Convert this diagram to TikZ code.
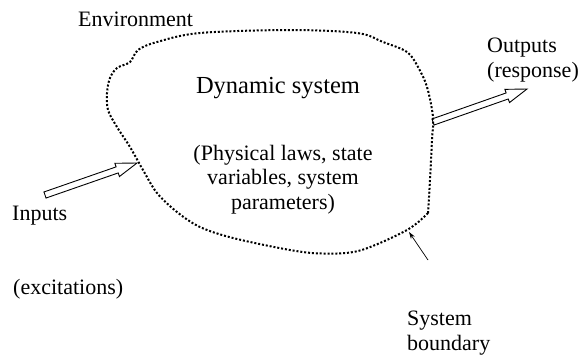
\documentclass[tikz,border=0pt]{standalone}
\usepackage{fontspec}
\setmainfont{Liberation Serif}
\usetikzlibrary{calc,arrows.meta}

\tikzset{
  lbl/.style={inner sep=0pt, font=\fontsize{22}{25}\selectfont},
  biglbl/.style={inner sep=0pt, font=\fontsize{24.5}{27}\selectfont},
  boundary/.style={line width=2pt, dash pattern=on 2pt off 1.9pt, line cap=butt},
  pointer/.style={line width=0.7pt, -{Stealth[length=7pt,width=4.5pt]}},
  % hollow block arrow built as a closed outline between two points
  hollowarrow/.style={line width=0.9pt, line join=miter, to path={
    ($(\tikztostart)!3.2pt!90:(\tikztotarget)$)
    -- ($($(\tikztotarget)!21pt!(\tikztostart)$)!3.2pt!90:(\tikztotarget)$)
    -- ($($(\tikztotarget)!21pt!(\tikztostart)$)!7pt!90:(\tikztotarget)$)
    -- (\tikztotarget)
    -- ($($(\tikztotarget)!21pt!(\tikztostart)$)!7pt!-90:(\tikztotarget)$)
    -- ($($(\tikztotarget)!21pt!(\tikztostart)$)!3.2pt!-90:(\tikztotarget)$)
    -- ($(\tikztostart)!3.2pt!-90:(\tikztotarget)$)
    -- cycle}}
}

\begin{document}
\begin{tikzpicture}[x=1pt,y=-1pt]
  \useasboundingbox (0,0) rectangle (580,354);

  % system boundary
  \draw[boundary] plot[smooth, tension=0.55] coordinates {
    (428,213) (407,230) (360,250.5) (323,253.5) (290,250)
    (233,238) (200,227) (177,212) (157,193) (143,170) (130,147) (117,127)
    (108,110) (107,93) (110,78) (117,68) (130,62) (138,50) (157,42)
    (200,33) (290,30) (357,33) (383,42) (407,52) (418,67) (427,87)
    (433,117) (432,140) (430,180) (428,213)};

  % labels
  \node[lbl, anchor=base west] (env) at (78,26) {Environment};
  \node[biglbl, anchor=base] (dyn) at (278,93) {Dynamic system};
  \node[lbl, anchor=base] (laws1) at (283,160) {(Physical laws, state};
  \node[lbl, anchor=base] (laws2) at (283,184.5) {variables, system};
  \node[lbl, anchor=base] (laws3) at (283,209) {parameters)};
  \node[lbl, anchor=base west] (out1) at (487,52) {Outputs};
  \node[lbl, anchor=base west] (out2) at (487,77) {(response)};
  \node[lbl, anchor=base west] (inp) at (12,220) {Inputs};
  \node[lbl, anchor=base west] (exc) at (13,294) {(excitations)};
  \node[lbl, anchor=base west] (sb1) at (407,325) {System};
  \node[lbl, anchor=base west] (sb2) at (407,350) {boundary};

  % arrow end points
  \coordinate (intail) at (45,195);
  \coordinate (intip) at (137,163);
  \coordinate (outtail) at (433,122);
  \coordinate (outtip) at (527,89);
  \coordinate (ptail) at (428,260);
  \coordinate (ptip) at (409,232);

  \draw[hollowarrow] (intail) to (intip);
  \draw[hollowarrow] (outtail) to (outtip);
  \draw[pointer] (ptail) -- (ptip);
\end{tikzpicture}
\end{document}
